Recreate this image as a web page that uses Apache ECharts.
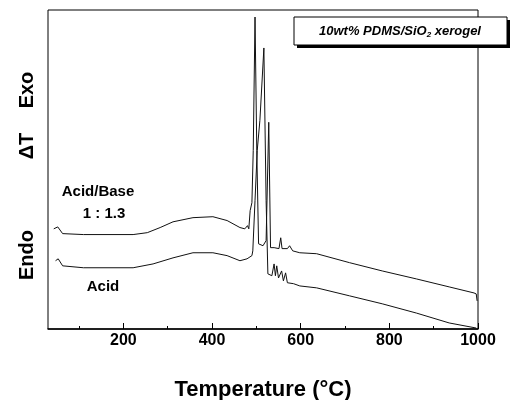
<!DOCTYPE html>
<html>
<head>
<meta charset="utf-8">
<script src="https://cdn.jsdelivr.net/npm/echarts@6/dist/echarts.min.js"></script>
<style>
  html, body { margin: 0; padding: 0; background: #fff; }
  #chart { width: 510px; height: 400px; }
</style>
</head>
<body>
<div id="chart"></div>
<script>
// DTA traces, arbitrary y units (0 = bottom of frame, 100 = top)
const acidBaseTemps = [43, 52, 63, 110, 222, 254, 283, 312, 357, 402, 434, 463, 474, 480, 483, 486, 490, 493, 497, 501, 505, 515, 522, 528, 532, 540, 551, 555, 558, 570, 575, 582, 598, 636, 710, 784, 861, 935, 991, 996, 998]
const acidBaseValues = [31.4, 32.0, 29.9, 29.6, 29.6, 30.2, 31.8, 33.6, 34.9, 35.2, 34.0, 31.8, 31.4, 32.4, 31.4, 37.1, 39.6, 56.0, 97.8, 56.0, 26.7, 26.1, 27.7, 64.8, 25.5, 25.5, 25.2, 28.6, 25.2, 25.2, 26.1, 24.5, 23.9, 23.6, 20.8, 18.2, 15.7, 13.2, 11.3, 11.0, 8.8]

const acidTemps = [47, 53, 63, 110, 222, 267, 312, 357, 402, 434, 463, 479, 490, 492, 497, 502, 508, 517, 522, 526, 535, 540, 543, 546, 550, 557, 561, 566, 570, 584, 598, 636, 710, 784, 861, 935, 996]
const acidValues = [21.4, 22.0, 19.8, 19.2, 19.2, 20.4, 22.3, 23.9, 23.9, 23.0, 21.4, 22.0, 23.0, 24.5, 40.3, 56.0, 65.4, 88.1, 40.3, 17.3, 16.7, 20.4, 16.7, 19.8, 16.0, 18.2, 15.1, 17.6, 14.5, 14.2, 13.5, 12.9, 10.4, 7.9, 5.0, 1.9, 0.3]

const majorTicks = [200, 400, 600, 800, 1000]
const minorTicks = [100, 300, 500, 700, 900]

const chart = echarts.init(document.getElementById('chart'), null, { renderer: 'canvas' })

const font = 'Liberation Sans, Arial, sans-serif'

const toPairs = (xs, ys) => xs.map((x, i) => [x, ys[i]])

chart.setOption({
  animation: false,
  backgroundColor: '#fff',
  grid: {
    left: 48,
    right: 32,
    top: 10,
    bottom: 71,
    outerBoundsMode: 'none',
    containLabel: false,
    show: true,
    borderColor: '#000',
    borderWidth: 1,
    backgroundColor: 'transparent',
  },
  xAxis: [
    {
      type: 'value',
      min: 30,
      max: 1000,
      name: 'Temperature (°C)',
      nameLocation: 'middle',
      nameGap: 50,
      nameTextStyle: { fontFamily: font, fontWeight: 'bold', fontSize: 22, color: '#000' },
      axisLine: { show: true, lineStyle: { color: '#000', width: 1.5 } },
      axisTick: { show: true, inside: true, length: 6, customValues: majorTicks, lineStyle: { color: '#000' } },
      axisLabel: {
        customValues: majorTicks,
        margin: 4,
        formatter: (v) => String(v),
        fontFamily: font,
        fontWeight: 'bold',
        fontSize: 16,
        color: '#000',
      },
      splitLine: { show: false },
    },
    {
      // minor ticks only
      type: 'value',
      min: 30,
      max: 1000,
      position: 'bottom',
      axisLine: { show: false },
      axisTick: { show: true, inside: true, length: 3, customValues: minorTicks, lineStyle: { color: '#000' } },
      axisLabel: { show: false },
      splitLine: { show: false },
    },
  ],
  yAxis: {
    type: 'value',
    min: 0,
    max: 100,
    show: false,
  },
  series: [
    {
      name: 'Acid/Base 1 : 1.3',
      type: 'line',
      data: toPairs(acidBaseTemps, acidBaseValues),
      showSymbol: false,
      lineStyle: { color: '#111', width: 1 },
    },
    {
      name: 'Acid',
      type: 'line',
      data: toPairs(acidTemps, acidValues),
      showSymbol: false,
      lineStyle: { color: '#111', width: 1 },
    },
  ],
  graphic: [
    // y axis words
    { type: 'text', x: 27, y: 90, rotation: Math.PI / 2, style: { text: 'Exo', font: 'bold 20px ' + font, fill: '#000', align: 'center', verticalAlign: 'middle' } },
    { type: 'text', x: 27, y: 146, rotation: Math.PI / 2, style: { text: 'ΔT', font: 'bold 20px ' + font, fill: '#000', align: 'center', verticalAlign: 'middle' } },
    { type: 'text', x: 27, y: 255, rotation: Math.PI / 2, style: { text: 'Endo', font: 'bold 20px ' + font, fill: '#000', align: 'center', verticalAlign: 'middle' } },
    // curve labels
    { type: 'text', x: 98, y: 192, style: { text: 'Acid/Base', font: 'bold 15px ' + font, fill: '#000', align: 'center', verticalAlign: 'middle' } },
    { type: 'text', x: 104, y: 214, style: { text: '1 : 1.3', font: 'bold 15px ' + font, fill: '#000', align: 'center', verticalAlign: 'middle' } },
    { type: 'text', x: 103, y: 287, style: { text: 'Acid', font: 'bold 15px ' + font, fill: '#000', align: 'center', verticalAlign: 'middle' } },
    // title box with hard drop shadow
    {
      type: 'rect',
      shape: { x: 297, y: 20, width: 213, height: 28 },
      style: { fill: '#000' },
    },
    {
      type: 'rect',
      shape: { x: 294, y: 17, width: 213, height: 28 },
      style: { fill: '#fff', stroke: '#000', lineWidth: 1 },
    },
    {
      type: 'text',
      x: 400,
      y: 31,
      style: {
        text: '10wt% PDMS/SiO{sub|2} xerogel',
        font: 'italic bold 13px ' + font,
        fill: '#000',
        align: 'center',
        verticalAlign: 'middle',
        rich: {
          sub: { font: 'italic bold 8px ' + font, fill: '#000', padding: [8, 0, 0, 0] },
        },
      },
    },
  ],
})
</script>
</body>
</html>
